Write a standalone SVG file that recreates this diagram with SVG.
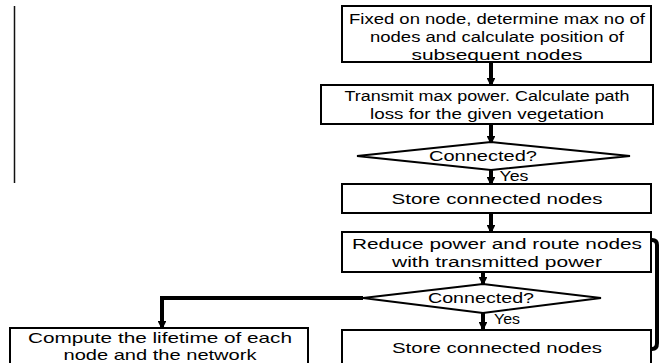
<svg xmlns="http://www.w3.org/2000/svg" width="660" height="363" viewBox="0 0 660 363">
<style>
.box{fill:#fff;stroke:#000;stroke-width:2}
.t{font-family:"Liberation Sans","Open Sans",sans-serif;font-size:15.5px;fill:#000;text-anchor:middle}
.c{fill:none;stroke:#000;stroke-width:4}
</style>
<defs>
<marker id="ah" viewBox="0 0 10 10" refX="8" refY="5" markerWidth="2.2" markerHeight="2.2" orient="auto"><path d="M0,0L10,5L0,10z" fill="#000"/></marker>
</defs>
<rect width="660" height="363" fill="#fff"/>
<line x1="14.5" y1="6" x2="14.5" y2="183" stroke="#111" stroke-width="1.5"/>
<g id="connectors">
<line class="c" x1="491" y1="62" x2="491" y2="85" marker-end="url(#ah)"/>
<line class="c" x1="491" y1="124" x2="491" y2="143" marker-end="url(#ah)"/>
<line class="c" x1="491" y1="170" x2="491" y2="184" marker-end="url(#ah)"/>
<line class="c" x1="491" y1="213" x2="491" y2="232" marker-end="url(#ah)"/>
<line class="c" x1="483" y1="272" x2="483" y2="284" marker-end="url(#ah)"/>
<line class="c" x1="483" y1="313" x2="483" y2="329" marker-end="url(#ah)"/>
<path class="c" d="M363,298 H162 V328" marker-end="url(#ah)"/>
<path class="c" d="M651,240 H652 Q657,240 657,245 V343 Q657,349 652,349 H651"/>
</g>
<g id="n1"><rect class="box" x="342" y="6" width="309" height="56"/>
<text class="t" x="497" y="24" textLength="296" lengthAdjust="spacingAndGlyphs">Fixed on node, determine max no of</text>
<text class="t" x="497" y="42" textLength="254" lengthAdjust="spacingAndGlyphs">nodes and calculate position of</text>
<text class="t" x="497" y="60" textLength="171" lengthAdjust="spacingAndGlyphs">subsequent nodes</text></g>
<g id="n2"><rect class="box" x="321" y="85" width="332" height="39"/>
<text class="t" x="487" y="101" textLength="285" lengthAdjust="spacingAndGlyphs">Transmit max power. Calculate path</text>
<text class="t" x="487" y="119" textLength="234" lengthAdjust="spacingAndGlyphs">loss for the given vegetation</text></g>
<g id="n3"><polygon class="box" points="357,156 491,142 630,156 491,170"/>
<text class="t" x="483" y="161" textLength="108" lengthAdjust="spacingAndGlyphs">Connected?</text>
<text class="t" x="514" y="181" textLength="29" lengthAdjust="spacingAndGlyphs">Yes</text></g>
<g id="n4"><rect class="box" x="342" y="184" width="309" height="29"/>
<text class="t" x="497" y="204" textLength="211" lengthAdjust="spacingAndGlyphs">Store connected nodes</text></g>
<g id="n5"><rect class="box" x="342" y="232" width="309" height="40"/>
<text class="t" x="497" y="249" textLength="290" lengthAdjust="spacingAndGlyphs">Reduce power and route nodes</text>
<text class="t" x="497" y="267" textLength="210" lengthAdjust="spacingAndGlyphs">with transmitted power</text></g>
<g id="n6"><polygon class="box" points="363,298 483,284 601,298 483,313"/>
<text class="t" x="481" y="303" textLength="106" lengthAdjust="spacingAndGlyphs">Connected?</text>
<text class="t" x="507" y="324" textLength="26" lengthAdjust="spacingAndGlyphs">Yes</text></g>
<g id="n7"><rect class="box" x="342" y="330" width="309" height="34"/>
<text class="t" x="497" y="353" textLength="210" lengthAdjust="spacingAndGlyphs">Store connected nodes</text></g>
<g id="n8"><rect class="box" x="10" y="328" width="298" height="36"/>
<text class="t" x="160" y="343" textLength="264" lengthAdjust="spacingAndGlyphs" style="font-size:15px">Compute the lifetime of each</text>
<text class="t" x="160" y="360" textLength="193" lengthAdjust="spacingAndGlyphs" style="font-size:15px">node and the network</text></g>
</svg>
